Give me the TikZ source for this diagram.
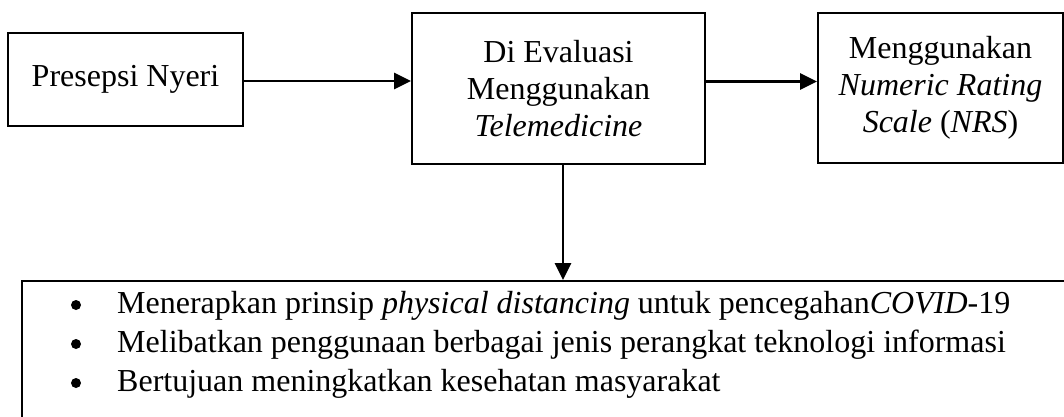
\documentclass[tikz,border=0pt]{standalone}
\usepackage{fontspec}
\setmainfont{Liberation Serif}
\usetikzlibrary{arrows.meta}
\begin{document}
\begin{tikzpicture}[x=1pt,y=1pt,
 box/.style={draw,line width=2pt,inner sep=0pt,align=center,font=\fontsize{32}{37}\selectfont},
 item/.style={inner sep=0pt,font=\fontsize{32}{37}\selectfont},
 dot/.style={circle,fill,inner sep=0pt,minimum size=10pt},
 arr/.style={line width=2.8pt,-{Triangle[length=17pt,width=16pt]}}]
\useasboundingbox (0,0) rectangle (1064,-416);
\clip (0,0) rectangle (1064,-416);
\node[box,minimum width=235pt,minimum height=93pt] (b1) at (125.5,-79.5) {Presepsi Nyeri};
\node[box,minimum width=293pt,minimum height=151pt] (b2) at (558.5,-88.5) {Di Evaluasi\\Menggunakan\\\textit{Telemedicine}};
\node[box,minimum width=245pt,minimum height=150pt] (b3) at (940.5,-88) {Menggunakan\\\textit{Numeric Rating}\\\textit{Scale} (\textit{NRS})};
\node[box,minimum width=1060pt,minimum height=200pt,anchor=north west] (b4) at (21,-280) {};
\node[item,anchor=base west] (t1) at (117,-313) {Menerapkan prinsip \textit{physical distancing} untuk pencegahan\textit{COVID}-19};
\node[item,anchor=base west] (t2) at (117,-352) {Melibatkan penggunaan berbagai jenis perangkat teknologi informasi};
\node[item,anchor=base west] (t3) at (117,-391) {Bertujuan meningkatkan kesehatan masyarakat};
\node[dot] (u1) at (76,-305) {};
\node[dot] (u2) at (76,-344) {};
\node[dot] (u3) at (76,-383) {};
\draw[arr] ([yshift=-1.5pt]b1.east) -- ([yshift=-1.5pt]b2.west |- b1.east);
\draw[arr] ([yshift=-2pt]b2.east |- b1.east) -- ([yshift=-2pt]b3.west |- b1.east);
\draw[arr] ([xshift=4.5pt]b2.south) -- ([xshift=4.5pt]b2.south |- b4.north);
\end{tikzpicture}
\end{document}
